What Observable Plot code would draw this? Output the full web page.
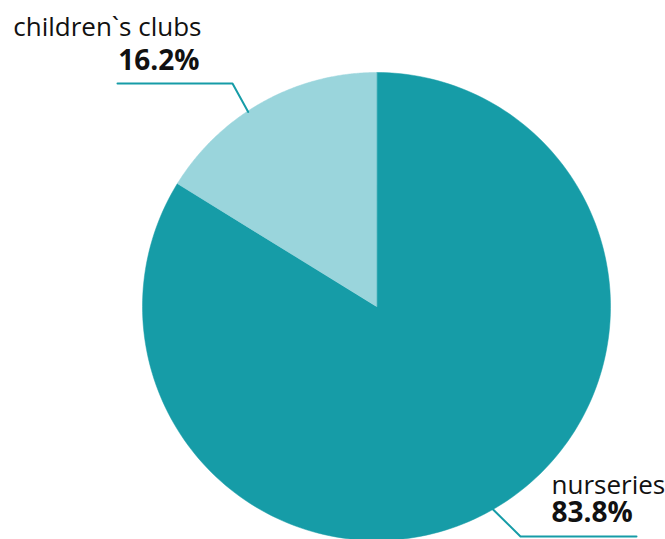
<!DOCTYPE html>
<html>
<head>
<meta charset="utf-8">
<script src="https://cdn.jsdelivr.net/npm/d3@7"></script>
<script src="https://cdn.jsdelivr.net/npm/@observablehq/plot@0.6"></script>
<style>
  html, body { margin: 0; padding: 0; background: #fff; }
</style>
</head>
<body>
<div id="chart"></div>
<script>
// Data
const categories = ["nurseries", "children`s clubs"];
const values = [83.8, 16.2];
const valueLabels = ["83.8%", "16.2%"];
const colors = ["#169ca7", "#9ad5dc"];

// Layout
const W = 665, H = 539;
const cx = 376, cy = 306, R = 234;

const pie = d3.pie().sort(null).value(d => d.value);
const arcs = pie(categories.map((c, i) => ({category: c, value: values[i]})));

function pt(angle, r) {
  return [cx + r * Math.sin(angle), cy - r * Math.cos(angle)];
}

// polygons for slices
const slicePts = [];
arcs.forEach((a, i) => {
  const n = 200;
  slicePts.push({cat: a.data.category, x: cx, y: cy, k: 0});
  for (let j = 0; j <= n; j++) {
    const t = a.startAngle + (a.endAngle - a.startAngle) * j / n;
    const [x, y] = pt(t, R);
    slicePts.push({cat: a.data.category, x, y, k: j + 1});
  }
});

// Leader lines: anchor on pie edge, elbow, end
const deg = Math.PI / 180;
const leaders = [];
{
  const [x0, y0] = pt(150.2 * deg, R - 1);
  leaders.push({cat: categories[0], x: x0, y: y0});
  leaders.push({cat: categories[0], x: 520, y: 536});
  leaders.push({cat: categories[0], x: 636, y: 536});
}
{
  const [x0, y0] = pt(326.6 * deg, R - 1);
  leaders.push({cat: categories[1], x: x0, y: y0});
  leaders.push({cat: categories[1], x: 232, y: 83});
  leaders.push({cat: categories[1], x: 117, y: 83});
}

const labelPos = [
  {xName: 551, xVal: 551, yName: 493, yVal: 521, anchor: "start"},
  {xName: 201, xVal: 199, yName: 35, yVal: 69, anchor: "end"}
];
const nameTexts = categories.map((c, i) => ({text: c, x: labelPos[i].xName, y: labelPos[i].yName, anchor: labelPos[i].anchor}));
const valTexts = valueLabels.map((v, i) => ({text: v, x: labelPos[i].xVal, y: labelPos[i].yVal, anchor: labelPos[i].anchor}));

const fsName = 26, fsVal = 28;
const textMarks = [];
for (const anchor of ["start", "end"]) {
  textMarks.push(Plot.text(nameTexts.filter(d => d.anchor === anchor), {x: "x", y: "y", text: "text", textAnchor: anchor, lineAnchor: "bottom", fontSize: fsName, fill: "#111"}));
  textMarks.push(Plot.text(valTexts.filter(d => d.anchor === anchor), {x: "x", y: "y", text: "text", textAnchor: anchor, lineAnchor: "bottom", fontSize: fsVal, fontWeight: "bold", fill: "#111", letterSpacing: "-0.5px"}));
}

const chart = Plot.plot({
  width: W,
  height: H,
  margin: 0,
  x: {domain: [0, W], range: [0, W], axis: null},
  y: {domain: [0, H], range: [0, H], axis: null},
  style: {fontFamily: "'Open Sans', sans-serif", background: "#fff"},
  marks: [
    ...arcs.map((a, i) => Plot.line(slicePts.filter(d => d.cat === a.data.category), {
      x: "x", y: "y", fill: colors[i], stroke: colors[i], strokeWidth: 0.5, curve: "linear-closed"
    })),
    Plot.line(leaders, {x: "x", y: "y", z: "cat", stroke: "#169ca7", strokeWidth: 2}),
    ...textMarks
  ]
});
document.getElementById("chart").appendChild(chart);
</script>
</body>
</html>
